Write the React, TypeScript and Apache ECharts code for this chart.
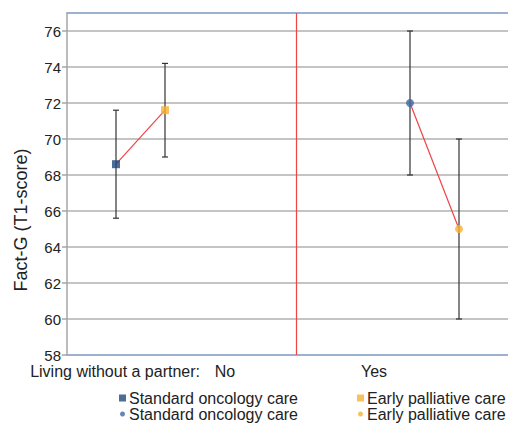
import React, { useEffect, useRef } from "react";
import * as echarts from "echarts";

// Data
const GROUPS = ["No", "Yes"];
const GROUP_TITLE = "Living without a partner:";
const Y_NAME = "Fact-G (T1-score)";
// x positions on the hidden value axis
const STD_NO = [1, 68.6];
const EARLY_NO = [2, 71.6];
const STD_YES = [7, 72];
const EARLY_YES = [8, 65];
// error bars: [x, low, high]
const ERRORS = [
  [1, 65.6, 71.6],
  [2, 69.0, 74.2],
  [7, 68, 76],
  [8, 60, 70],
];
const DIVIDER_X = 4.67;
const LEGEND_NAMES = {
  stdSq: "Standard oncology care",
  earlySq: "Early palliative care",
  stdCi: "Standard oncology care",
  earlyCi: "Early palliative care",
};

const NAVY = "#1f497d";
const BLUE = "#3d68a4";
const ORANGE = "#f8b133";
const RED = "#ee4444";
const FONT = "'Liberation Sans', Arial, sans-serif";

export default function App() {
  const ref = useRef<HTMLDivElement>(null);
  useEffect(() => {
    document.body.style.margin = "0";
    const chart = echarts.init(ref.current!, null, { renderer: "svg" });
    const legendCommon = {
      orient: "horizontal",
      padding: 0,
      itemWidth: 7,
      itemHeight: 7,
      itemGap: 5,
      selectedMode: false,
      textStyle: { fontSize: 16, color: "#222", fontFamily: FONT, padding: [0, 0, 0, -2] },
      formatter: (n: string) => (LEGEND_NAMES as any)[n],
    };
    const legendCircle = { ...legendCommon, itemWidth: 5, itemHeight: 5, textStyle: { ...legendCommon.textStyle, padding: [0, 0, 0, -1] } };
    chart.setOption({
      animation: false,
      textStyle: { fontFamily: FONT },
      grid: { left: 67, right: 0, top: 13, bottom: 68 },
      legend: [
        { ...legendCommon, left: 119, top: 390, data: [{ name: "stdSq", icon: "rect" }] },
        { ...legendCommon, left: 357, top: 390, data: [{ name: "earlySq", icon: "rect" }] },
        { ...legendCircle, left: 120, top: 406, data: [{ name: "stdCi", icon: "circle" }] },
        { ...legendCircle, left: 358, top: 406, data: [{ name: "earlyCi", icon: "circle" }] },
      ],
      xAxis: [
        {
          type: "value",
          min: 0,
          max: 9,
          axisLine: { show: true, lineStyle: { color: "#8eaad0", width: 1.5 } },
          axisTick: { show: false },
          axisLabel: { show: false },
          splitLine: { show: false },
        },
        {
          type: "value",
          position: "top",
          min: 0,
          max: 9,
          axisLine: { show: true, lineStyle: { color: "#8eaad0", width: 1.5 } },
          axisTick: { show: false },
          axisLabel: { show: false },
          splitLine: { show: false },
        },
      ],
      yAxis: {
        type: "value",
        min: 58,
        max: 77,
        interval: 2,
        axisLine: { show: true, lineStyle: { color: "#a6a6a6", width: 1.5 } },
        axisTick: { show: true, length: 5, lineStyle: { color: "#a6a6a6", width: 1.5 } },
        axisLabel: {
          showMaxLabel: false,
          fontSize: 15,
          color: "#222",
          margin: 6,
          fontFamily: FONT,
        },
        splitLine: { show: true, lineStyle: { color: "#b0b0b0", width: 1.5 } },
      },
      graphic: [
        {
          type: "text",
          x: 21,
          y: 220,
          rotation: Math.PI / 2,
          style: {
            text: Y_NAME,
            fontSize: 18,
            fill: "#222",
            fontFamily: FONT,
            align: "center",
            verticalAlign: "middle",
          },
        },
        {
          type: "text",
          x: 200,
          y: 371,
          style: { text: GROUP_TITLE, fontSize: 16, fill: "#222", fontFamily: FONT, align: "right", verticalAlign: "middle" },
        },
        {
          type: "text",
          x: 225,
          y: 371,
          style: { text: GROUPS[0], fontSize: 16, fill: "#222", fontFamily: FONT, align: "center", verticalAlign: "middle" },
        },
        {
          type: "text",
          x: 374,
          y: 371,
          style: { text: GROUPS[1], fontSize: 16, fill: "#222", fontFamily: FONT, align: "center", verticalAlign: "middle" },
        },
      ],
      series: [
        {
          type: "custom",
          name: "errors",
          data: ERRORS,
          encode: { x: 0, y: [1, 2] },
          z: 3,
          renderItem: (params: any, api: any) => {
            const x = api.value(0);
            const lo = api.coord([x, api.value(1)]);
            const hi = api.coord([x, api.value(2)]);
            const st = { stroke: "#333", lineWidth: 1.2 };
            return {
              type: "group",
              children: [
                { type: "line", shape: { x1: hi[0], y1: hi[1], x2: lo[0], y2: lo[1] }, style: st },
                { type: "line", shape: { x1: hi[0] - 3, y1: hi[1], x2: hi[0] + 3, y2: hi[1] }, style: st },
                { type: "line", shape: { x1: lo[0] - 3, y1: lo[1], x2: lo[0] + 3, y2: lo[1] }, style: st },
              ],
            };
          },
        },
        {
          type: "line",
          name: "linkNo",
          data: [STD_NO, EARLY_NO],
          symbol: "none",
          lineStyle: { color: RED, width: 1.2 },
          z: 4,
          markLine: {
            symbol: "none",
            silent: true,
            label: { show: false },
            lineStyle: { color: RED, width: 1.2, type: "solid" },
            data: [{ xAxis: DIVIDER_X }],
          },
        },
        {
          type: "line",
          name: "linkYes",
          data: [STD_YES, EARLY_YES],
          symbol: "none",
          lineStyle: { color: RED, width: 1.2 },
          z: 4,
        },
        { type: "scatter", name: "stdSq", data: [STD_NO], symbol: "rect", symbolSize: 8, itemStyle: { color: NAVY }, z: 5 },
        { type: "scatter", name: "earlySq", data: [EARLY_NO], symbol: "rect", symbolSize: 8, itemStyle: { color: ORANGE }, z: 5 },
        { type: "scatter", name: "stdCi", data: [STD_YES], symbol: "circle", symbolSize: 8, itemStyle: { color: BLUE }, z: 5 },
        { type: "scatter", name: "earlyCi", data: [EARLY_YES], symbol: "circle", symbolSize: 8, itemStyle: { color: ORANGE }, z: 5 },
      ],
    });
    return () => chart.dispose();
  }, []);
  return <div ref={ref} style={{ width: 508, height: 423 }} />;
}
